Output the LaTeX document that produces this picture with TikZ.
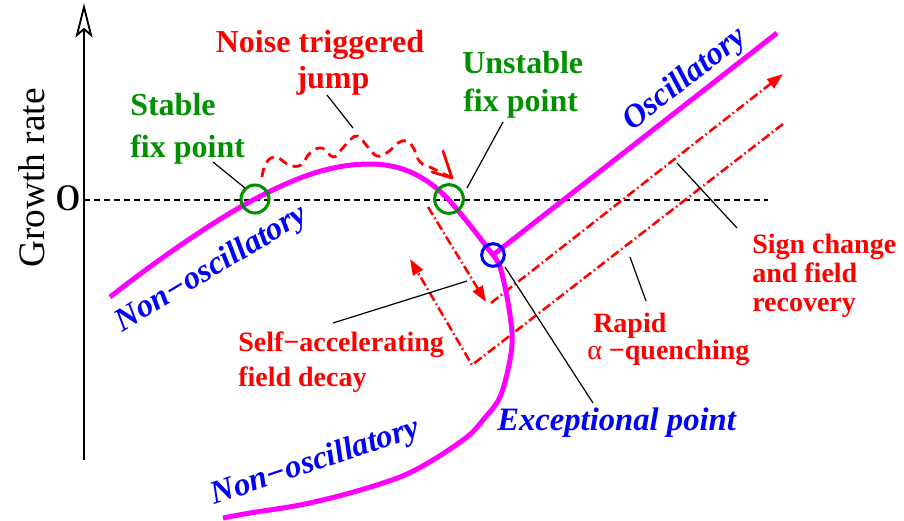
\documentclass[tikz,border=0pt]{standalone}
\usepackage{fontspec}
\setmainfont{Liberation Serif}
\usetikzlibrary{arrows.meta}
\definecolor{mag}{RGB}{255,0,255}
\definecolor{fgreen}{RGB}{0,144,0}
\begin{document}
\begin{tikzpicture}[x=0.75pt,y=-0.75pt,line join=round,
  curve/.style={mag,line width=3.75pt},
  leader/.style={black,line width=0.9pt},
  ring/.style={line width=2.3pt},
  dd/.style={red,line width=1.9pt,dash pattern=on 7pt off 2.4pt on 1.2pt off 2.4pt},
  ddtip/.style={-{Triangle[length=12pt,width=8.5pt]}},
  gtext/.style={text=fgreen,font=\fontsize{24}{28}\selectfont\bfseries,inner sep=0pt,anchor=base west},
  ntext/.style={text=red,font=\fontsize{24}{28}\selectfont\bfseries,inner sep=0pt,anchor=base},
  rtext/.style={text=red,font=\fontsize{21}{25}\selectfont\bfseries,inner sep=0pt,anchor=base west},
  btext/.style={text=blue,font=\fontsize{24.5}{28}\selectfont\bfseries\itshape,inner sep=0pt,anchor=base}]
\useasboundingbox (0,0) rectangle (904,521);

% axis
\coordinate (ax0) at (84,460);
\coordinate (ax1) at (84,29);
\coordinate (at) at (84,7);
\coordinate (al) at (77,35);
\coordinate (ar) at (91,35);
\draw[line width=1pt] (ax0) -- (ax1);
\draw[line width=1.4pt,fill=white,line join=miter] (at) -- (al) -- (ax1) -- (ar) -- cycle;
\node[font=\fontsize{28}{30}\selectfont,rotate=90,anchor=base,inner sep=0pt] (gr) at (45,178) {Growth rate};
\node[font=\fontsize{28}{30}\selectfont,anchor=base,inner sep=0pt,xscale=1.35] (zero) at (68,210) {0};

% zero line
\coordinate (z0) at (84,200);
\coordinate (z1) at (768,200);
\draw[line width=1.3pt,dash pattern=on 4.5pt off 3pt] (z0) -- (z1);

% dash-dot paths
\coordinate (d0) at (428,207);
\coordinate (d1) at (486,302);
\coordinate (d2) at (491,303);
\coordinate (d3) at (783,74);
\coordinate (e0) at (783,124);
\coordinate (e1) at (472,365);
\coordinate (e2) at (410,259);
\draw[dd,ddtip] (d0) -- (d1);
\draw[dd,ddtip] (d2) -- (d3);
\draw[dd,ddtip] (e0) -- (e1) -- (e2);

% noise path
\coordinate (nt) at (452,178);
\coordinate (na) at (443,151);
\coordinate (nb) at (432,172);
\draw[red,line width=2.1pt,dash pattern=on 7pt off 4.5pt]
  plot[smooth,tension=0.7] coordinates {(262,177) (266,163) (276,157) (289,165) (301,165) (310,153) (322,148) (333,157) (341,150) (350,140) (358,136) (367,146) (377,156) (388,152) (398,143) (407,141) (414,149) (420,162) (432,168) (450,177)};
\draw[red,line width=2.1pt,line cap=round] (na) -- (nt) -- (nb);

% magenta curves
\coordinate (ep) at (493,255);
\coordinate (osc) at (777,33);
\coordinate (m0) at (110,297);
\coordinate (m1) at (255,199);
\coordinate (m2) at (370,164);
\coordinate (m3) at (448,199);
\draw[curve] (m0) .. controls (160,258) and (215,220) .. (m1)
  .. controls (295,178) and (330,164) .. (m2)
  .. controls (400,164) and (425,175) .. (m3)
  .. controls (465,218) and (480,238) .. (ep);
\draw[curve] plot[smooth,tension=0.55] coordinates {(493,255) (500,267) (507,297) (512,333) (510,360) (500,397) (483,420) (467,437) (433,460) (400,477) (350,493) (300,505) (250,513) (223,518)};
\draw[curve] (ep) -- (osc);

% circles
\node[draw=fgreen,ring,circle,minimum size=21pt,inner sep=0pt] (sfp) at (255,199) {};
\node[draw=fgreen,ring,circle,minimum size=21.5pt,inner sep=0pt] (ufp) at (449,199) {};
\node[draw=blue,ring,circle,minimum size=17pt,inner sep=0pt] (epc) at (493,255) {};

% labels
\node[gtext] (st1) at (130,115) {Stable};
\node[gtext] (st2) at (130,157) {fix point};
\node[gtext] (un1) at (462,73) {Unstable};
\node[gtext] (un2) at (463,111) {fix point};
\node[ntext] (no1) at (320,52) {Noise triggered};
\node[ntext] (no2) at (333,88) {jump};
\node[rtext] (sg1) at (752,253) {Sign change};
\node[rtext] (sg2) at (752,282) {and field};
\node[rtext] (sg3) at (752,311) {recovery};
\node[rtext] (ra1) at (593,332) {Rapid};
\node[rtext] (ra2) at (587,359) {\mdseries α\ \bfseries −quenching};
\node[rtext] (sa1) at (238,351) {Self−accelerating};
\node[rtext] (sa2) at (238,386) {field decay};
\node[btext,anchor=base west] (exc) at (497,430) {Exceptional point};
\node[btext,rotate=38] (osl) at (690,86) {Oscillatory};
\node[btext,rotate=31] (no1l) at (216,276) {Non−oscillatory};
\node[btext,rotate=18.5] (no2l) at (318,470) {Non−oscillatory};

% leader lines
\coordinate (l1a) at (213,162); \coordinate (l1b) at (245,188);
\coordinate (l2a) at (503,122); \coordinate (l2b) at (467,188);
\coordinate (l3a) at (327,95);  \coordinate (l3b) at (353,128);
\coordinate (l4a) at (333,323); \coordinate (l4b) at (467,281);
\coordinate (l5a) at (505,267); \coordinate (l5b) at (593,403);
\coordinate (l6a) at (677,163); \coordinate (l6b) at (737,228);
\coordinate (l7a) at (630,257); \coordinate (l7b) at (646,301);
\draw[leader] (l1a) -- (l1b);
\draw[leader] (l2a) -- (l2b);
\draw[leader] (l3a) -- (l3b);
\draw[leader] (l4a) -- (l4b);
\draw[leader] (l5a) -- (l5b);
\draw[leader] (l6a) -- (l6b);
\draw[leader] (l7a) -- (l7b);
\end{tikzpicture}
\end{document}
